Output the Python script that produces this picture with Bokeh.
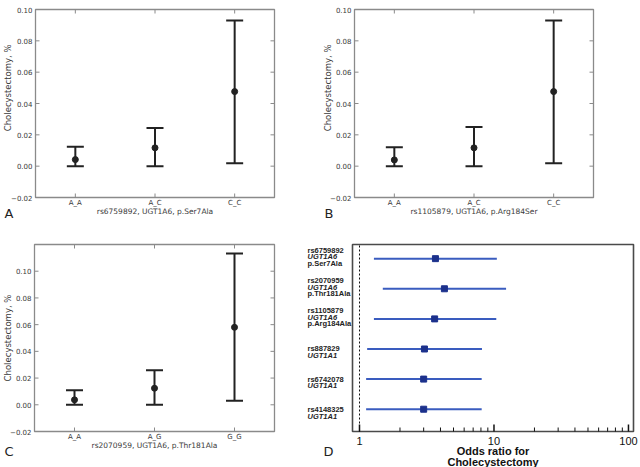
import math
from bokeh.plotting import figure
from bokeh.models import Range1d, ColumnDataSource
from bokeh.core.properties import value
from bokeh.layouts import column, row
from bokeh.embed import file_html
from bokeh.resources import INLINE

# ---- Panel A: rs6759892 (UGT1A6, p.Ser7Ala) -------------------------------
GENO_A = ["A_A", "A_C", "C_C"]
RATE_A = [0.0042, 0.0117, 0.0476]
LO_A = [0.0, 0.0, 0.0019]
HI_A = [0.0124, 0.0244, 0.093]
XLABEL_A = "rs6759892, UGT1A6, p.Ser7Ala"

# ---- Panel B: rs1105879 (UGT1A6, p.Arg184Ser) ------------------------------
GENO_B = ["A_A", "A_C", "C_C"]
RATE_B = [0.0040, 0.0117, 0.0476]
LO_B = [0.0, 0.0, 0.0019]
HI_B = [0.0121, 0.0250, 0.093]
XLABEL_B = "rs1105879, UGT1A6, p.Arg184Ser"

# ---- Panel C: rs2070959 (UGT1A6, p.Thr181Ala) ------------------------------
GENO_C = ["A_A", "A_G", "G_G"]
RATE_C = [0.0037, 0.0124, 0.058]
LO_C = [0.0, 0.0, 0.003]
HI_C = [0.0109, 0.0258, 0.1132]
XLABEL_C = "rs2070959, UGT1A6, p.Thr181Ala"

YTICKS = [-0.02, 0.0, 0.02, 0.04, 0.06, 0.08, 0.10]
YTICK_LABELS = ["\u22120.02", "0.00", "0.02", "0.04", "0.06", "0.08", "0.10"]
YLABEL = "Cholecystectomy, %"

# ---- Panel D: odds ratios for cholecystectomy ------------------------------
SNPS = ["rs6759892", "rs2070959", "rs1105879", "rs887829", "rs6742078", "rs4148325"]
GENES = ["UGT1A6", "UGT1A6", "UGT1A6", "UGT1A1", "UGT1A1", "UGT1A1"]
VARIANTS = ["p.Ser7Ala", "p.Thr181Ala", "p.Arg184Ala", "", "", ""]
OR = [3.67, 4.28, 3.62, 3.04, 3.0, 3.0]
OR_LO = [1.28, 1.49, 1.28, 1.14, 1.12, 1.12]
OR_HI = [10.5, 12.3, 10.4, 8.14, 8.1, 8.1]
OR_TICKS = [1, 10, 100]
OR_TICK_LABELS = ["1", "10", "100"]
OR_XLABEL = ["Odds ratio for", "Cholecystectomy"]

PANEL_LETTERS = ["A", "B", "C", "D"]

INK = "#222222"
SPINE = "#8a8a8a"
TXT = "#3a3a3a"
FONT = "DejaVu Sans"
ARIAL = "Liberation Sans"


def lin_range(d0, d1, px_before, px_box, px_after):
    """Range whose [d0, d1] part occupies px_box pixels, with margins on both sides."""
    unit = (d1 - d0) / px_box
    return Range1d(d0 - px_before * unit, d1 + px_after * unit)


def log_range(d0, d1, px_before, px_box, px_after):
    k = (d1 / d0) ** (1.0 / px_box)
    return Range1d(d0 / k ** px_before, d1 * k ** px_after)


def bare_figure(width, height, x_range, y_range, x_type="linear"):
    p = figure(width=width, height=height, x_range=x_range, y_range=y_range,
               x_axis_type=x_type, x_axis_location=None, y_axis_location=None,
               output_backend="svg", toolbar_location=None, min_border=0, title=None)
    p.grid.visible = False
    p.outline_line_color = None
    p.background_fill_color = "white"
    p.border_fill_color = "white"
    return p


def genotype_panel(geno, rate, lo, hi, xlabel, ymax, letter, width, height, box, letter_dy):
    bl, br, bt, bb = box  # plot box edges in pixels: left, right, top, bottom
    n = len(geno)
    xs = [i + 0.5 for i in range(n)]
    ymin = YTICKS[0]
    p = bare_figure(width, height,
                    lin_range(0, n, bl, br - bl, width - br),
                    lin_range(ymin, ymax, height - bb, bb - bt, bt))

    # axes box and inward ticks on all four sides
    p.quad(left=0, right=n, bottom=ymin, top=ymax, fill_color=None,
           line_color=SPINE, line_width=1.3)
    tick = dict(length=4, length_units="screen", line_color=SPINE, line_width=1)
    p.ray(x=0, y=YTICKS, angle=0, **tick)
    p.ray(x=n, y=YTICKS, angle=math.pi, **tick)
    p.ray(x=xs, y=ymin, angle=math.pi / 2, **tick)
    p.ray(x=xs, y=ymax, angle=-math.pi / 2, **tick)

    # error bars with caps, and the point estimate
    src = ColumnDataSource(dict(x=xs, r=rate, lo=lo, hi=hi))
    p.segment(x0="x", y0="lo", x1="x", y1="hi", source=src, line_color=INK, line_width=2)
    p.scatter(x="x", y="hi", source=src, marker="dash", size=17, line_color=INK, line_width=2)
    p.scatter(x="x", y="lo", source=src, marker="dash", size=17, line_color=INK, line_width=2)
    p.scatter(x="x", y="r", source=src, marker="circle", size=6, fill_color=INK, line_color=INK)

    # tick labels and axis titles
    font = dict(text_font=value(FONT), text_color=TXT)
    p.text(x=0, y=YTICKS, text=YTICK_LABELS, x_offset=-3, text_align="right",
           text_baseline="middle", text_font_size="7px", **font)
    p.text(x=xs, y=ymin, text=geno, y_offset=1, text_align="center",
           text_baseline="top", text_font_size="7px", **font)
    p.text(x=n / 2, y=ymin, text=[xlabel], y_offset=14, text_align="center",
           text_baseline="middle", text_font_size="7.5px", **font)
    p.text(x=0, y=0.05, text=[YLABEL], x_offset=-(bl - 7), angle=math.pi / 2,
           text_align="center", text_baseline="middle", text_font_size="8.5px", **font)

    # panel letter in the lower-left corner
    p.text(x=0, y=ymin, text=[letter], x_offset=-(bl - 4), y_offset=letter_dy,
           text_align="left", text_baseline="middle", text_font=value(FONT),
           text_font_size="13px", text_color=INK)
    return p


pA = genotype_panel(GENO_A, RATE_A, LO_A, HI_A, XLABEL_A, 0.10, PANEL_LETTERS[0],
                    320, 220, (35, 274, 9, 197), 16)
pB = genotype_panel(GENO_B, RATE_B, LO_B, HI_B, XLABEL_B, 0.10, PANEL_LETTERS[1],
                    320, 220, (34, 273, 9, 197), 16)
pC = genotype_panel(GENO_C, RATE_C, LO_C, HI_C, XLABEL_C, 0.12, PANEL_LETTERS[2],
                    300, 247, (34, 274, 24, 211), 20)

# ---- forest plot ------------------------------------------------------------
D_W, D_H = 340, 247
BL, BR, BT, BB = 52, 333, 24, 211
X_LO, X_HI = 0.887, 109.0
Y_LO, Y_HI = 0.26, 6.47

pD = bare_figure(D_W, D_H,
                 log_range(X_LO, X_HI, BL, BR - BL, D_W - BR),
                 lin_range(Y_LO, Y_HI, D_H - BB, BB - BT, BT), x_type="log")

pD.quad(left=X_LO, right=X_HI, bottom=Y_LO, top=Y_HI, fill_color=None,
        line_color="#4a4a4a", line_width=1.6)
pD.segment(x0=1, y0=Y_LO, x1=1, y1=Y_HI, line_color="#111111", line_width=1,
           line_dash="2 2")

minor = [m * d for d in OR_TICKS[:-1] for m in range(2, 10)]
pD.ray(x=OR_TICKS, y=Y_LO, angle=math.pi / 2, length=7, length_units="screen",
       line_color="#111111", line_width=1.5)
pD.ray(x=minor, y=Y_LO, angle=math.pi / 2, length=4, length_units="screen",
       line_color="#111111", line_width=1)
pD.text(x=OR_TICKS, y=Y_LO, text=OR_TICK_LABELS, y_offset=9, text_align="center",
        text_baseline="middle", text_font=value(ARIAL), text_font_size="11px",
        text_color="#111111")
xc = (X_LO * X_HI) ** 0.5
pD.text(x=xc, y=Y_LO, text=OR_XLABEL, y_offset=[19, 30], text_align="center",
        text_baseline="middle", text_font=value(ARIAL), text_font_size="11px",
        text_font_style="bold", text_color="#111111")

n_rows = len(SNPS)
ypos = [n_rows - i for i in range(n_rows)]
dsrc = ColumnDataSource(dict(y=ypos, orr=OR, lo=OR_LO, hi=OR_HI))
pD.segment(x0="lo", y0="y", x1="hi", y1="y", source=dsrc, line_color="#3a5cbf", line_width=2)
pD.scatter(x="orr", y="y", source=dsrc, marker="square", size=6,
           fill_color="#1c318c", line_color="#1c318c")

# row labels left of the box: SNP, gene (italic) and protein change
LINE_PITCH = 6.8
lab = dict(y=[], text=[], off=[], style=[])
for i in range(n_rows):
    lines = [(SNPS[i], "bold"), (GENES[i], "bold italic")]
    if VARIANTS[i]:
        lines.append((VARIANTS[i], "bold"))
    start = -8.5 if len(lines) == 3 else 0.0
    for k, (txt, style) in enumerate(lines):
        lab["y"].append(ypos[i])
        lab["text"].append(txt)
        lab["off"].append(start + k * LINE_PITCH)
        lab["style"].append(style)
pD.text(x=X_LO, y="y", text="text", y_offset="off", text_font_style="style",
        source=ColumnDataSource(lab), x_offset=-(BL - 7), text_align="left",
        text_baseline="middle", text_font=value(ARIAL), text_font_size="7.5px",
        text_color=INK)

pD.text(x=X_LO, y=Y_LO, text=[PANEL_LETTERS[3]], x_offset=-(BL - 23), y_offset=20,
        text_align="left", text_baseline="middle", text_font=value(FONT),
        text_font_size="13px", text_color=INK)

layout = column(row(pA, pB), row(pC, pD))
open("out.html", "w").write(file_html(layout, INLINE))
